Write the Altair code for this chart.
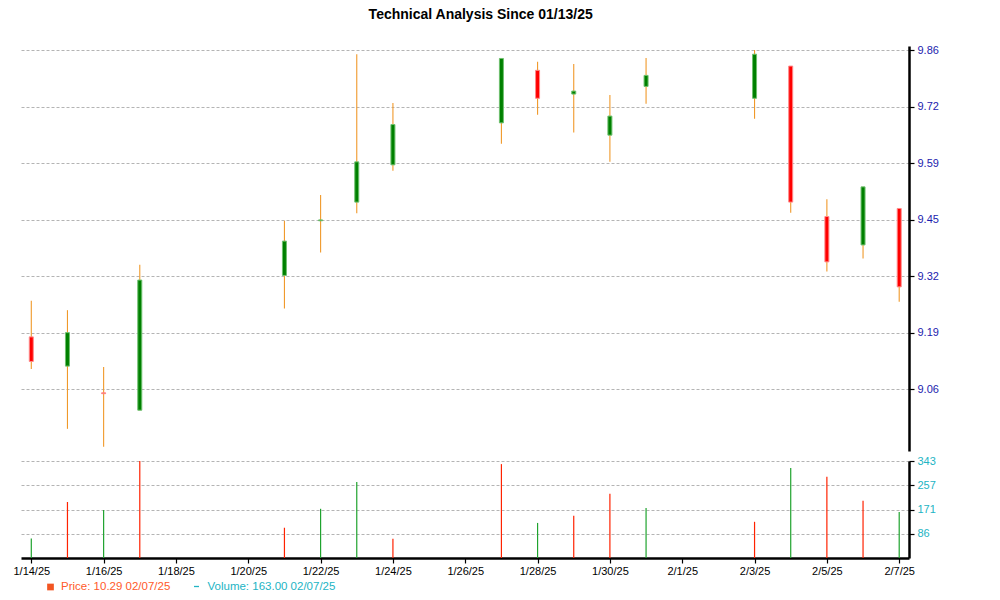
import altair as alt
import pandas as pd

# ---------------- data ----------------
dates = ["2025-01-14", "2025-01-15", "2025-01-16", "2025-01-17", "2025-01-21", "2025-01-22",
         "2025-01-23", "2025-01-24", "2025-01-27", "2025-01-28", "2025-01-29", "2025-01-30",
         "2025-01-31", "2025-02-03", "2025-02-04", "2025-02-05", "2025-02-06", "2025-02-07"]
opens = [9.179, 9.110, 9.047, 9.006, 9.324, 9.453, 9.497, 9.585, 9.684, 9.808, 9.752, 9.655,
         9.770, 9.742, 9.818, 9.463, 9.396, 9.482]
highs = [9.264, 9.242, 9.108, 9.349, 9.453, 9.514, 9.846, 9.731, 9.836, 9.828, 9.823, 9.750,
         9.837, 9.856, 9.818, 9.504, 9.533, 9.482]
lows = [9.103, 8.962, 8.920, 9.006, 9.246, 9.378, 9.471, 9.571, 9.635, 9.703, 9.661, 9.592,
        9.729, 9.694, 9.472, 9.333, 9.364, 9.262]
closes = [9.121, 9.189, 9.045, 9.313, 9.405, 9.455, 9.592, 9.680, 9.836, 9.742, 9.759, 9.700,
          9.796, 9.846, 9.497, 9.356, 9.533, 9.297]
volumes = [69, 198, 170, 343, 107, 174, 269, 68, 332, 124, 149, 227, 177, 128, 318, 287, 202, 163]
vol_dir = ["up", "down", "up", "down", "down", "up", "up", "down", "down", "up", "down", "down",
           "up", "down", "up", "down", "down", "up"]

x_tick_dates = ["2025-01-14", "2025-01-16", "2025-01-18", "2025-01-20", "2025-01-22", "2025-01-24",
                "2025-01-26", "2025-01-28", "2025-01-30", "2025-02-01", "2025-02-03", "2025-02-05",
                "2025-02-07"]
price_ticks = [9.0553, 9.1887, 9.3220, 9.4549, 9.5887, 9.7220, 9.8553]
volume_ticks = [85.75, 171.4, 257.25, 343]

title_text = "Technical Analysis Since 01/13/25"
legend_price = "Price: 10.29  02/07/25"
legend_volume = "Volume: 163.00  02/07/25"

df = pd.DataFrame({"date": dates, "open": opens, "high": highs, "low": lows,
                   "close": closes, "volume": volumes, "vdir": vol_dir})
df["dir"] = ["up" if c >= o else "down" for o, c in zip(opens, closes)]

FONT = "Liberation Sans"
x_domain = [alt.DateTime(year=2025, month=1, date=13, hours=17, minutes=10, utc=True),
            alt.DateTime(year=2025, month=2, date=7, hours=6, minutes=30, utc=True)]
x_values = [alt.DateTime(year=int(d[:4]), month=int(d[5:7]), date=int(d[8:]), utc=True)
            for d in x_tick_dates]
xscale = alt.Scale(type="utc", domain=x_domain, nice=False, padding=0)

W = 888

# ---------------- price panel ----------------
base = alt.Chart(df)
yscale = alt.Scale(domain=[8.9097, 9.8654], zero=False, nice=False)
price_axis = alt.Axis(orient="right", values=price_ticks, format=".2f", title=None,
                      labelColor="#1c1cae", labelFont=FONT, labelFontSize=11,
                      domainColor="#000", domainWidth=2.5, tickColor="#000", tickSize=5,
                      tickWidth=1.2, grid=True, gridColor="#b4b4b4", gridDash=[3, 2],
                      gridWidth=1, labelPadding=3)

wicks = base.mark_rule(color="#f0992a", strokeWidth=1.1).encode(
    x=alt.X("date:T", scale=xscale, axis=None),
    y=alt.Y("low:Q", scale=yscale, axis=price_axis),
    y2="high:Q",
)
bodies = base.mark_bar(size=4, strokeWidth=1).encode(
    x=alt.X("date:T", scale=xscale, axis=None),
    y=alt.Y("open:Q", scale=yscale),
    y2="close:Q",
    fill=alt.Fill("dir:N", scale=alt.Scale(domain=["up", "down"], range=["#008000", "#ff0000"]),
                  legend=None),
    stroke=alt.Stroke("dir:N", scale=alt.Scale(domain=["up", "down"], range=["#6fc06f", "#ff8a8a"]),
                      legend=None),
)
price = alt.layer(wicks, bodies).properties(width=W, height=405)

# ---------------- volume panel ----------------
vbase = alt.Chart(df)
vol_axis = alt.Axis(orient="right", values=volume_ticks, format="d", title=None,
                    labelColor="#22b4c4", labelFont=FONT, labelFontSize=11,
                    domainColor="#000", domainWidth=2.5, tickColor="#000", tickSize=5,
                    tickWidth=1.2, grid=True, gridColor="#b4b4b4", gridDash=[3, 2],
                    gridWidth=1, labelPadding=3)
x_axis = alt.Axis(values=x_values, format="%-m/%-d/%y", title=None, labelFont=FONT,
                  labelFontSize=11, labelColor="#000", domainColor="#000", domainWidth=2.5,
                  tickColor="#000", tickSize=5, tickWidth=1.2, grid=False, labelPadding=2,
                  labelOverlap=False)
vbars = vbase.mark_rule(strokeWidth=1.2).encode(
    x=alt.X("date:T", scale=xscale, axis=x_axis),
    y=alt.Y("volume:Q", scale=alt.Scale(domain=[0, 343], nice=False), axis=vol_axis),
    y2=alt.datum(0),
    color=alt.Color("vdir:N", scale=alt.Scale(domain=["up", "down"], range=["#1fa32e", "#ff2200"]),
                    legend=None),
)

leg = alt.Chart(pd.DataFrame({"t": [legend_price]}))
leg_sq = leg.mark_square(size=45, color="#f25522", opacity=1, filled=True).encode(
    x=alt.value(29.5), y=alt.value(126))
leg_p = leg.mark_text(align="left", baseline="middle", font=FONT, fontSize=11.5,
                      color="#ff5a2a").encode(x=alt.value(40), y=alt.value(126), text="t:N")
leg2 = alt.Chart(pd.DataFrame({"t": [legend_volume]}))
leg_dash = leg2.mark_rule(color="#22b4c4", strokeWidth=1.3).encode(
    x=alt.value(173), x2=alt.value(178), y=alt.value(125.5))
leg_v = leg2.mark_text(align="left", baseline="middle", font=FONT, fontSize=11.5,
                       color="#22b4c4").encode(x=alt.value(186.5), y=alt.value(126), text="t:N")

volume = alt.layer(vbars, leg_sq, leg_p, leg_dash, leg_v).properties(width=W, height=97)

chart = alt.vconcat(price, volume, spacing=10, bounds="flush").properties(
    title=alt.TitleParams(title_text, font=FONT, fontSize=14, fontWeight="bold", color="#000",
                          anchor="middle", offset=22, dx=5),
    padding={"left": 4, "top": 0, "right": 10, "bottom": 5},
    background="white",
).configure_view(stroke=None).resolve_scale(x="shared")

chart.save("out.html", embed_options={"renderer": "svg", "actions": False})
